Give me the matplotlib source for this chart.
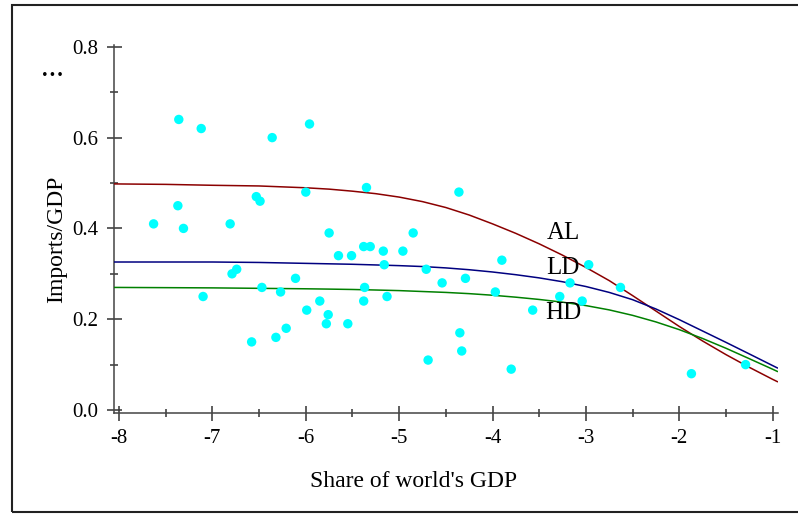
import matplotlib
matplotlib.use('Agg')
import matplotlib.pyplot as plt
from matplotlib.patches import Rectangle
from matplotlib.ticker import MultipleLocator

plt.rcParams['font.family'] = ['Liberation Serif', 'DejaVu Serif']

# scatter data: log share of world GDP vs imports/GDP
share = [-7.63, -7.37, -7.36, -7.31, -7.12, -7.10, -6.81, -6.79, -6.74, -6.58,
         -6.53, -6.49, -6.47, -6.36, -6.32, -6.27, -6.21, -6.11, -6.00, -5.99,
         -5.96, -5.85, -5.78, -5.76, -5.75, -5.65, -5.55, -5.51, -5.38, -5.31,
         -5.35, -5.38, -5.37, -5.17, -5.16, -5.13, -4.96, -4.85, -4.71, -4.69,
         -4.54, -4.36, -4.35, -4.33, -4.29, -3.97, -3.90, -3.80, -3.57, -3.28,
         -3.17, -3.04, -2.97, -2.63, -1.87, -1.29]
imports = [0.41, 0.45, 0.64, 0.40, 0.62, 0.25, 0.41, 0.30, 0.31, 0.15,
           0.47, 0.46, 0.27, 0.60, 0.16, 0.26, 0.18, 0.29, 0.48, 0.22,
           0.63, 0.24, 0.19, 0.21, 0.39, 0.34, 0.19, 0.34, 0.36, 0.36,
           0.49, 0.24, 0.27, 0.35, 0.32, 0.25, 0.35, 0.39, 0.31, 0.11,
           0.28, 0.48, 0.17, 0.13, 0.29, 0.26, 0.33, 0.09, 0.22, 0.25,
           0.28, 0.24, 0.32, 0.27, 0.08, 0.10]

# fitted curves
curve_x = [-8.05, -7.5, -7.0, -6.5, -6.0, -5.75, -5.5, -5.25, -5.0, -4.75, -4.5,
           -4.25, -4.0, -3.75, -3.5, -3.25, -3.0, -2.75, -2.5, -2.25, -2.0,
           -1.75, -1.5, -1.25, -1.0, -0.95]
al = [0.498, 0.497, 0.495, 0.4935, 0.4895, 0.4865, 0.482, 0.4765, 0.469, 0.459, 0.446,
      0.4295, 0.410, 0.389, 0.366, 0.341, 0.314, 0.285, 0.252, 0.218, 0.184,
      0.152, 0.122, 0.094, 0.0675, 0.0625]
ld = [0.326, 0.326, 0.326, 0.325, 0.323, 0.322, 0.321, 0.3195, 0.318, 0.316, 0.313,
      0.309, 0.304, 0.298, 0.291, 0.2825, 0.272, 0.259, 0.243, 0.2225, 0.199,
      0.174, 0.149, 0.1235, 0.0978, 0.0927]
hd = [0.270, 0.2695, 0.269, 0.268, 0.267, 0.2663, 0.2655, 0.2643, 0.263, 0.261, 0.259,
      0.2563, 0.2528, 0.2485, 0.2435, 0.2375, 0.230, 0.2205, 0.2085, 0.194, 0.177,
      0.1575, 0.136, 0.113, 0.0898, 0.085]

fig = plt.figure(figsize=(7.98, 5.15), dpi=100)
ax = fig.add_axes([0.14286, 0.19806, 0.8317, 0.71456])

ax.plot(curve_x, al, color='#8b0000', lw=1.1, zorder=3)
ax.plot(curve_x, ld, color='#000080', lw=1.1, zorder=3)
ax.plot(curve_x, hd, color='#008000', lw=1.1, zorder=3)
ax.scatter(share, imports, s=46, color='#00ffff', edgecolors='none', zorder=4)

ax.text(-3.424, 0.376, 'AL', fontsize=18, ha='left', va='baseline')
ax.text(-3.424, 0.2997, 'LD', fontsize=18, ha='left', va='baseline')
ax.text(-3.44, 0.200, 'HD', fontsize=18, ha='left', va='baseline')

ax.set_xlim(-8.054, -0.946)
ax.set_ylim(-0.0066, 0.804)
ax.xaxis.set_minor_locator(MultipleLocator(0.5))
ax.yaxis.set_minor_locator(MultipleLocator(0.1))
ax.set_xticks(range(-8, 0))
ax.set_xticklabels([str(i) for i in range(-8, 0)])
ax.set_yticks([0.0, 0.2, 0.4, 0.6, 0.8])
ax.set_yticklabels(['0.0', '0.2', '0.4', '0.6', '0.8'])

for s in ['top', 'right']:
    ax.spines[s].set_visible(False)
for s in ['left', 'bottom']:
    ax.spines[s].set_color('#444444')
    ax.spines[s].set_linewidth(1.1)
ax.tick_params(which='major', direction='inout', length=10.8, width=1.1,
               color='#333333', labelsize=15, pad=6)
ax.tick_params(which='minor', direction='inout', length=5.8, width=1.1,
               color='#333333')
ax.patch.set_visible(False)

fig.text(413.5 / 798, 1 - 487 / 515, "Share of world's GDP", fontsize=17,
         ha='center', va='baseline')
fig.text(57 / 798, 1 - 239 / 515, 'Imports/GDP', fontsize=17, rotation=90,
         ha='center', va='center')
fig.text(41 / 798, 1 - 76 / 515, '...', fontsize=22, ha='left', va='baseline')

fig.patches.append(Rectangle((12 / 798, 1 - 512 / 515), 1.0, (512 - 5) / 515,
                             transform=fig.transFigure, fill=False,
                             edgecolor='#222222', lw=1.5))

fig.savefig('out.png', dpi=100)
